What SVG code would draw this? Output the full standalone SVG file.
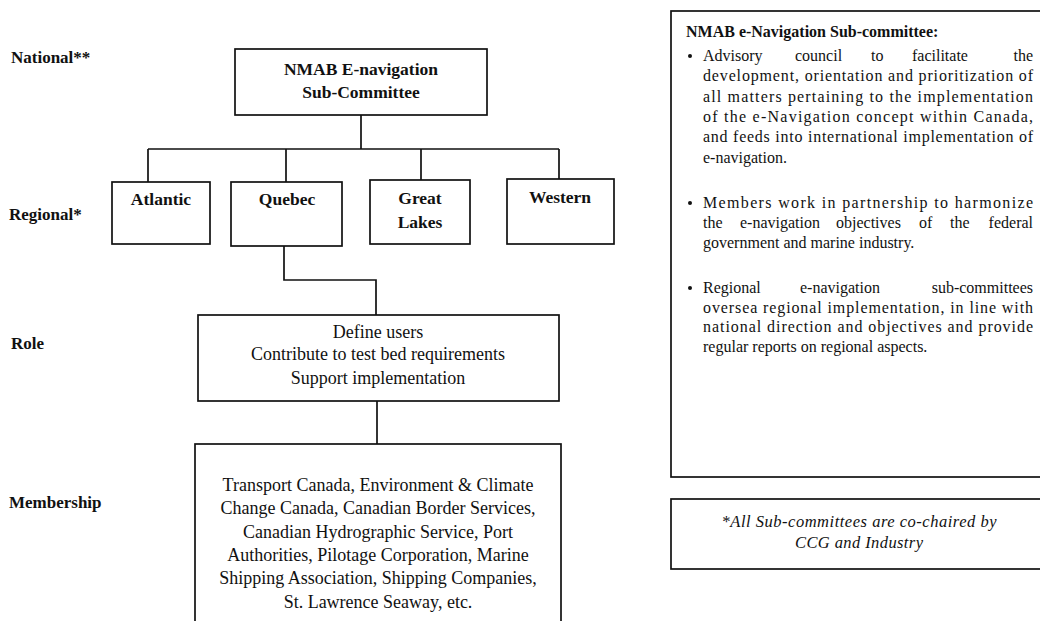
<svg xmlns="http://www.w3.org/2000/svg" width="1040" height="621" viewBox="0 0 1040 621">
<style>
text{font-family:"Liberation Serif","Times New Roman",serif;fill:#111}
.box{fill:#fff;stroke:#111;stroke-width:1.7}
.ln{fill:none;stroke:#111;stroke-width:1.7}
.lbl{font-weight:bold;font-size:17px}
.bt{font-weight:bold;font-size:17.5px;text-anchor:middle}
.rt{font-size:18px;text-anchor:middle}
.pt{font-size:16px}
.nt{font-size:16.5px;font-style:italic;text-anchor:middle}
</style>
<rect width="1040" height="621" fill="#fff"/>
<g id="labels">
<text class="lbl" x="11" y="63">National**</text>
<text class="lbl" x="9" y="220">Regional*</text>
<text class="lbl" x="11" y="349">Role</text>
<text class="lbl" x="9" y="508">Membership</text>
</g>
<g id="connectors">
<path class="ln" d="M361 115V149M148 149H559M148 149V182M286 149V182M421 149V180M559 149V179"/>
<path class="ln" d="M284 246V280H376V315"/>
<path class="ln" d="M377 401V444"/>
</g>
<g id="nmab">
<rect class="box" x="235" y="49" width="252" height="66"/>
<text class="bt" x="361" y="75">NMAB E-navigation</text>
<text class="bt" x="361" y="98">Sub-Committee</text>
</g>
<g id="atlantic">
<rect class="box" x="112" y="182" width="98" height="62"/>
<text class="bt" x="161" y="205">Atlantic</text>
</g>
<g id="quebec">
<rect class="box" x="231" y="182" width="111" height="64"/>
<text class="bt" x="287" y="205">Quebec</text>
</g>
<g id="greatlakes">
<rect class="box" x="370" y="180" width="100" height="64"/>
<text class="bt" x="420" y="204">Great</text>
<text class="bt" x="420" y="228">Lakes</text>
</g>
<g id="western">
<rect class="box" x="507" y="179" width="107" height="65"/>
<text class="bt" x="560" y="203">Western</text>
</g>
<g id="role">
<rect class="box" x="198" y="315" width="361" height="86"/>
<text class="rt" x="378" y="338">Define users</text>
<text class="rt" x="378" y="360">Contribute to test bed requirements</text>
<text class="rt" x="378" y="384">Support implementation</text>
</g>
<g id="membership">
<rect class="box" x="195" y="444" width="366" height="200"/>
<text class="rt" x="378" y="491">Transport Canada, Environment &amp; Climate</text>
<text class="rt" x="378" y="514">Change Canada, Canadian Border Services,</text>
<text class="rt" x="378" y="538">Canadian Hydrographic Service, Port</text>
<text class="rt" x="378" y="561">Authorities, Pilotage Corporation, Marine</text>
<text class="rt" x="378" y="584">Shipping Association, Shipping Companies,</text>
<text class="rt" x="378" y="608">St. Lawrence Seaway, etc.</text>
</g>
<g id="description">
<rect class="box" x="671" y="11" width="380" height="466"/>
<text class="pt" x="686" y="37" font-weight="bold">NMAB e-Navigation Sub-committee:</text>
<circle cx="690" cy="56" r="2" fill="#111"/>
<text class="pt" x="703" y="61">Advisory</text>
<text class="pt" x="795" y="61">council</text>
<text class="pt" x="871" y="61">to</text>
<text class="pt" x="912" y="61">facilitate</text>
<text class="pt" x="1033" y="61" text-anchor="end">the</text>
<text class="pt" x="703" y="81" textLength="330" lengthAdjust="spacing">development, orientation and prioritization of</text>
<text class="pt" x="703" y="102" textLength="330" lengthAdjust="spacing">all matters pertaining to the implementation</text>
<text class="pt" x="703" y="122" textLength="330" lengthAdjust="spacing">of the e-Navigation concept within Canada,</text>
<text class="pt" x="703" y="142" textLength="330" lengthAdjust="spacing">and feeds into international implementation of</text>
<text class="pt" x="703" y="163">e-navigation.</text>
<circle cx="690" cy="203" r="2" fill="#111"/>
<text class="pt" x="703" y="208" textLength="330" lengthAdjust="spacing">Members work in partnership to harmonize</text>
<text class="pt" x="703" y="228">the</text>
<text class="pt" x="740" y="228">e-navigation</text>
<text class="pt" x="836" y="228">objectives</text>
<text class="pt" x="919" y="228">of</text>
<text class="pt" x="950" y="228">the</text>
<text class="pt" x="1033" y="228" text-anchor="end">federal</text>
<text class="pt" x="703" y="248">government and marine industry.</text>
<circle cx="690" cy="288" r="2" fill="#111"/>
<text class="pt" x="703" y="293">Regional</text>
<text class="pt" x="800" y="293">e-navigation</text>
<text class="pt" x="1033" y="293" text-anchor="end">sub-committees</text>
<text class="pt" x="703" y="313" textLength="330" lengthAdjust="spacing">oversea regional implementation, in line with</text>
<text class="pt" x="703" y="332" textLength="330" lengthAdjust="spacing">national direction and objectives and provide</text>
<text class="pt" x="703" y="352">regular reports on regional aspects.</text>
</g>
<g id="note">
<rect class="box" x="671" y="499" width="380" height="70"/>
<text class="nt" x="859" y="527" textLength="275" lengthAdjust="spacing">*All Sub-committees are co-chaired by</text>
<text class="nt" x="859" y="548" textLength="128" lengthAdjust="spacing">CCG and Industry</text>
</g>
</svg>
